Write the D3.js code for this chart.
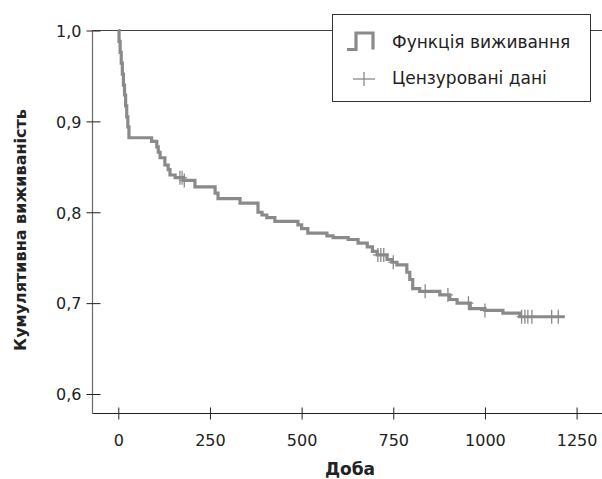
<!DOCTYPE html>
<html><head><meta charset="utf-8">
<script src="https://cdn.jsdelivr.net/npm/d3@7"></script>
<style>
html,body{margin:0;padding:0;background:#fff;}
svg text{font-family:"DejaVu Sans",sans-serif;fill:#222;}
</style></head><body>
<svg id="c" width="602" height="479"></svg>
<script>
// Kaplan–Meier step data (event day, survival after the step)
const eventDays = [0, 2, 5, 8, 11, 14, 17, 20, 23, 26, 29, 91, 105, 109, 114, 127, 136, 141, 155, 178, 209, 264, 272, 332, 381, 392, 405, 427, 490, 500, 517, 569, 586, 627, 654, 679, 693, 706, 733, 746, 760, 787, 795, 803, 822, 877, 904, 924, 960, 1000, 1049, 1095];
const survival  = [1.0, 0.988, 0.976, 0.964, 0.952, 0.940, 0.929, 0.917, 0.905, 0.894, 0.882, 0.878, 0.872, 0.866, 0.860, 0.852, 0.847, 0.841, 0.838, 0.835, 0.828, 0.821, 0.815, 0.810, 0.800, 0.797, 0.794, 0.790, 0.786, 0.782, 0.777, 0.774, 0.772, 0.770, 0.766, 0.762, 0.757, 0.753, 0.748, 0.745, 0.742, 0.734, 0.726, 0.716, 0.713, 0.709, 0.704, 0.700, 0.694, 0.692, 0.689, 0.685];
const lastDay = 1218;
const censoredDays = [168, 174, 180, 708, 716, 724, 750, 837, 899, 955, 1000, 1100, 1109, 1117, 1128, 1182, 1200];
const xTicks = [0, 250, 500, 750, 1000, 1250];
const yTicks = [0.6, 0.7, 0.8, 0.9, 1.0];
const xTitle = "Доба";
const yTitle = "Кумулятивна виживаність";
const legendLabels = ["Функція виживання", "Цензуровані дані"];

const svg = d3.select("#c");
const x = d3.scaleLinear().domain([0, 1250]).range([118.3, 576.6]);
const y = d3.scaleLinear().domain([0.6, 1.0]).range([394, 30.5]);
const axisX = 92.5, axisY = 413.5;
const grey = "#8a8a8a";
const labelFont = "DejaVu Sans, sans-serif";

// top frame line
svg.append("line").attr("x1", axisX).attr("x2", 602).attr("y1", 30.5).attr("y2", 30.5)
  .attr("stroke", "#444").attr("stroke-width", 1);

// Y axis
const gy = svg.append("g").attr("transform", `translate(${axisX},0)`)
  .call(d3.axisLeft(y).tickValues(yTicks).tickSize(6).tickSizeOuter(0)
    .tickFormat(d => d3.format(".1f")(d).replace(".", ",")));
gy.select(".domain").attr("d", `M0,30.5V${axisY}`).attr("stroke", "#6a6a6a").attr("stroke-width", 1.2);
gy.selectAll(".tick line").attr("x1", -6).attr("x2", 8).attr("stroke", "#222");
gy.selectAll(".tick text").attr("x", -11).attr("dy", "0.36em")
  .style("font-size", "16px").style("font-family", labelFont).attr("fill", "#333");

// X axis
const gx = svg.append("g").attr("transform", `translate(0,${axisY})`)
  .call(d3.axisBottom(x).tickValues(xTicks).tickSize(6).tickSizeOuter(0).tickFormat(d3.format("d")));
gx.select(".domain").attr("d", `M${axisX},0H602`).attr("stroke", "#222").attr("stroke-width", 1);
gx.selectAll(".tick line").attr("y1", -6).attr("y2", 6).attr("stroke", "#222");
gx.selectAll(".tick text").attr("y", 21).attr("dy", "0.71em")
  .style("font-size", "16px").style("font-family", labelFont).attr("fill", "#333");

// axis titles
svg.append("text").attr("x", 350).attr("y", 475).attr("text-anchor", "middle")
  .style("font-size", "17px").style("font-weight", "bold").text(xTitle);
svg.append("text").attr("transform", "translate(26,230) rotate(-90)").attr("text-anchor", "middle")
  .style("font-size", "16px").style("font-weight", "bold").text(yTitle);

// survival step curve
const pts = eventDays.map((d, i) => [d, survival[i]]);
pts.push([lastDay, survival[survival.length - 1]]);
const line = d3.line().x(d => x(d[0])).y(d => y(d[1])).curve(d3.curveStepAfter);
svg.append("path").datum(pts).attr("d", line).attr("fill", "none")
  .attr("stroke", grey).attr("stroke-width", 3.2);

// censored marks
function survAt(t) {
  let v = 1;
  for (let i = 0; i < eventDays.length; i++) { if (eventDays[i] <= t) v = survival[i]; }
  return v;
}
const cg = svg.append("g");
censoredDays.forEach(t => {
  const cx = x(t), cy = y(survAt(t));
  cg.append("line").attr("x1", cx).attr("x2", cx).attr("y1", cy - 7).attr("y2", cy + 7)
    .attr("stroke", grey).attr("stroke-width", 1.3);
  cg.append("line").attr("x1", cx - 5).attr("x2", cx + 5).attr("y1", cy).attr("y2", cy)
    .attr("stroke", grey).attr("stroke-width", 1.3);
});

// legend
const lg = svg.append("g");
lg.append("rect").attr("x", 332.5).attr("y", 14.5).attr("width", 258).attr("height", 87)
  .attr("fill", "#fff").attr("stroke", "#333").attr("stroke-width", 1);
lg.append("path").attr("d", "M347,49.5H356V33H373V49.5").attr("fill", "none")
  .attr("stroke", grey).attr("stroke-width", 3.2);
lg.append("line").attr("x1", 353).attr("x2", 375).attr("y1", 79).attr("y2", 79).attr("stroke", grey).attr("stroke-width", 1.3);
lg.append("line").attr("x1", 364).attr("x2", 364).attr("y1", 72).attr("y2", 86).attr("stroke", grey).attr("stroke-width", 1.3);
lg.selectAll("text.leg").data(legendLabels).enter().append("text").attr("class", "leg")
  .attr("x", 392).attr("y", (d, i) => 48 + i * 36)
  .style("font-size", "17px").attr("fill", "#333").text(d => d);
</script>
</body></html>
